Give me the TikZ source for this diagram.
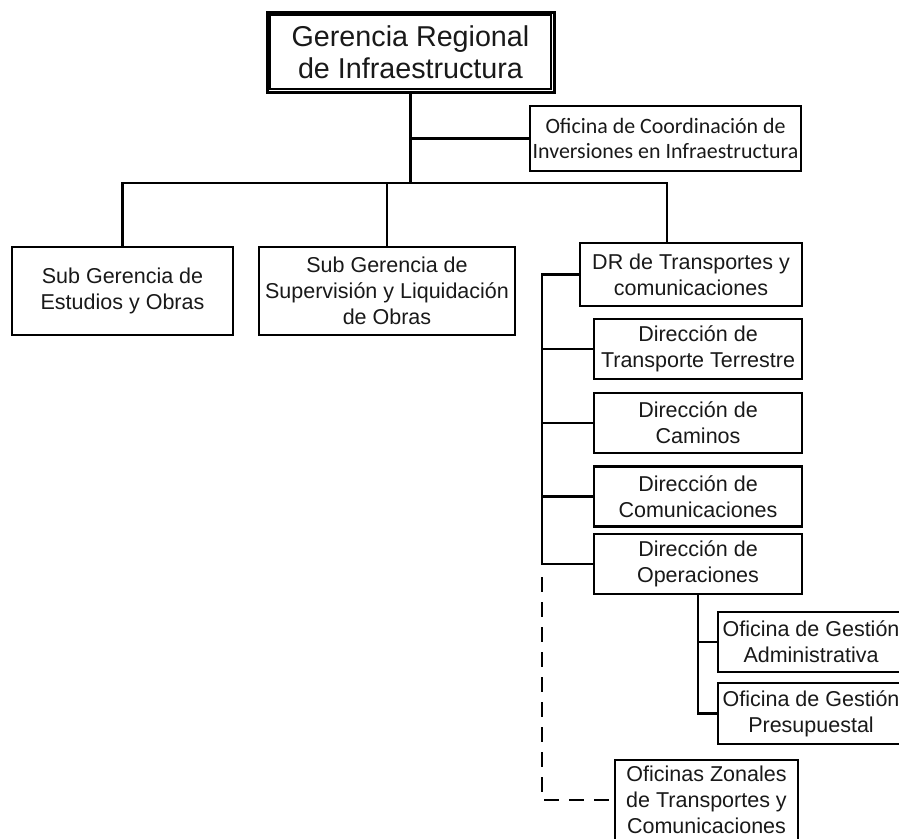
\documentclass[tikz,border=0pt]{standalone}
\usepackage{fontspec}
\setmainfont{Liberation Sans}
\newfontfamily\carlitofont{Carlito}
\begin{document}
\begin{tikzpicture}[x=1pt,y=-1pt,
  orgbox/.style={draw=black,line width=2.4pt,fill=white,rectangle,inner sep=0pt,align=center,
    font=\fontsize{21.5}{26}\selectfont,text=black!90},
  link/.style={draw=black,line width=2.4pt},
  dlink/.style={draw=black,line width=2.4pt,dash pattern=on 15pt off 10pt}]
\useasboundingbox (0,0) rectangle (899,838);
\clip (0,0) rectangle (899,838);
\fill[white] (0,0) rectangle (899,838);
% nodes
\node[orgbox,line width=3pt,minimum width=287pt,minimum height=80pt,font=\fontsize{28.7}{32}\selectfont] (top) at (410.5,52) {Gerencia Regional\\de Infraestructura};
\draw[line width=1.4pt] ([shift={(4.5,4.5)}]top.north west) rectangle ([shift={(-4.5,-4.5)}]top.south east);
\node[orgbox,minimum width=271pt,minimum height=65pt,font=\carlitofont\fontsize{21.9}{25}\selectfont] (ofc) at (665.5,138.5) {Oficina de Coordinación de\\Inversiones en Infraestructura};
\node[orgbox,minimum width=221pt,minimum height=88pt] (sub1) at (122.5,291) {Sub Gerencia de\\Estudios y Obras};
\node[orgbox,minimum width=256pt,minimum height=88pt] (sub2) at (387,291) {Sub Gerencia de\\Supervisión y Liquidación\\de Obras};
\node[orgbox,minimum width=222pt,minimum height=63pt] (dr) at (691,274.5) {DR de Transportes y\\comunicaciones};
\node[orgbox,minimum width=208pt,minimum height=60pt] (d1) at (698,349) {Dirección de\\Transporte Terrestre};
\node[orgbox,minimum width=208pt,minimum height=60pt] (d2) at (698,423) {Dirección de\\Caminos};
\node[orgbox,minimum width=208pt,minimum height=60pt] (d3) at (698,496.5) {Dirección de\\Comunicaciones};
\node[orgbox,minimum width=208pt,minimum height=60pt] (d4) at (698,564) {Dirección de\\Operaciones};
\node[orgbox,minimum width=186pt,minimum height=60pt] (o1) at (811,642) {Oficina de Gestión\\Administrativa};
\node[orgbox,minimum width=186pt,minimum height=61pt] (o2) at (811,713.5) {Oficina de Gestión\\Presupuestal};
\node[orgbox,minimum width=183pt,minimum height=80pt] (oz) at (706.5,800) {Oficinas Zonales\\de Transportes y\\Comunicaciones};
% coordinates
\coordinate (bus) at (410.5,183);
\coordinate (drx) at (667,183);
\coordinate (spine) at (542,274.5);
\coordinate (dstart) at (542,577);
% connectors
\draw[link,line width=3pt] (top.south) -- (bus);
\draw[link] (top.south |- ofc.west) -- (ofc.west);
\draw[link] (sub1.north) -- (sub1.north |- bus) -- (drx) -- (drx |- dr.north);
\draw[link] (sub2.north) -- (sub2.north |- bus);
\draw[link] (dr.west) -- (spine) -- (spine |- d4.west) -- (d4.west);
\draw[link] (spine |- d1.west) -- (d1.west);
\draw[link] (spine |- d2.west) -- (d2.west);
\draw[link] (spine |- d3.west) -- (d3.west);
\draw[link] (d4.south) -- (d4.south |- o2.west) -- (o2.west);
\draw[link] (d4.south |- o1.west) -- (o1.west);
\draw[dlink] (dstart) -- (dstart |- oz.west) -- (oz.west);
\end{tikzpicture}
\end{document}
